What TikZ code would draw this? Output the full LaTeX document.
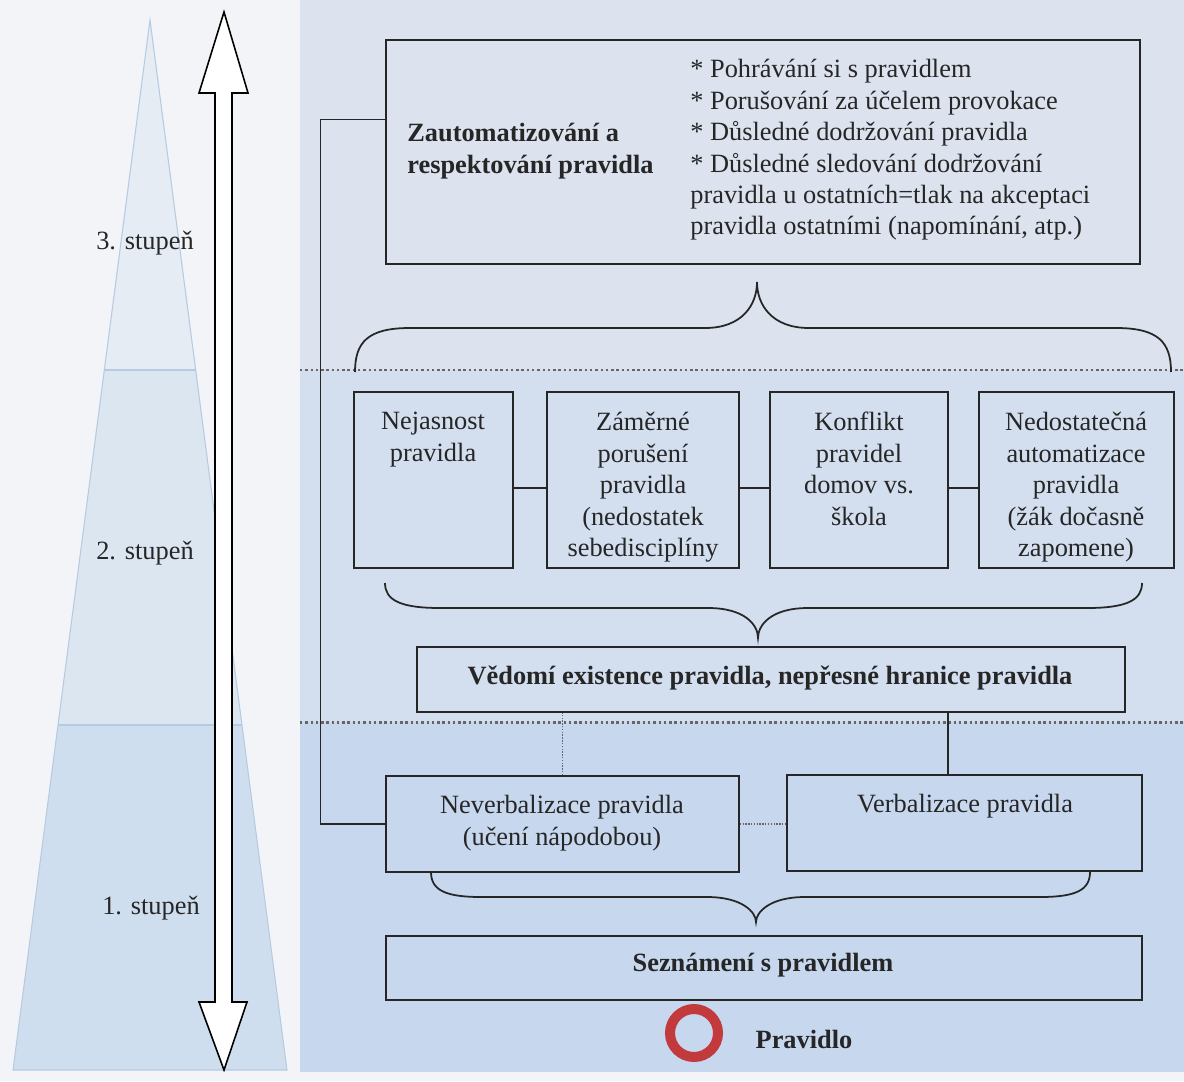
\documentclass[tikz,border=0pt]{standalone}
\usepackage{fontspec}
\setmainfont{Liberation Serif}
\usetikzlibrary{fit,calc}
\definecolor{leftbg}{HTML}{F3F4F8}
\definecolor{ptop}{HTML}{DCE2EE}
\definecolor{pmid}{HTML}{D3DEEF}
\definecolor{pbot}{HTML}{C6D7EE}
\definecolor{tri1}{HTML}{E5ECF4}
\definecolor{tri2}{HTML}{DCE6F1}
\definecolor{tri3}{HTML}{CFDEEE}
\definecolor{triline}{HTML}{B5CBE2}
\definecolor{ink}{HTML}{262626}
\definecolor{ringred}{HTML}{C23A3C}
\newcommand\fs{\fontsize{15pt}{17.9pt}\selectfont}
\begin{document}
\begin{tikzpicture}[x=0.2mm,y=-0.2mm,
  box/.style={draw=ink, line width=0.85pt, inner sep=0pt},
  txt/.style={font=\fs, text=ink, inner sep=0pt, align=center},
  ltxt/.style={font=\fs, text=ink, inner sep=0pt, align=left},
  conn/.style={draw=ink, line width=0.7pt},
  dotconn/.style={draw=ink!70, line width=0.6pt, dash pattern=on 0.8pt off 0.8pt},
  sect/.style={draw=gray!80!black, line width=1.7pt, dash pattern=on 1.4pt off 1.6pt},
  bracepath/.style={draw=ink, line width=1pt}]
\useasboundingbox (0,0) rectangle (1184,1081);
% backgrounds
\fill[leftbg] (0,0) rectangle (1184,1081);
\fill[ptop] (300,0) rectangle (1184,370);
\fill[pmid] (300,370) rectangle (1184,722);
\fill[pbot] (300,722) rectangle (1184,1072);
% pyramid
\fill[tri1] (150,20) -- (196,370) -- (104,370) -- cycle;
\fill[tri2] (104,370) -- (196,370) -- (242,725) -- (58,725) -- cycle;
\fill[tri3] (58,725) -- (242,725) -- (287,1070) -- (13,1070) -- cycle;
\draw[triline, line width=0.6pt] (150,20) -- (287,1070) -- (13,1070) -- cycle;
\draw[triline, line width=1.6pt] (104,370) -- (196,370);
\draw[triline, line width=1.6pt] (58,725) -- (242,725);
% double arrow
\draw[fill=white, draw=black, line width=0.9pt, line join=miter]
  (224,12) -- (248,93) -- (232,93) -- (232,1002) -- (247,1002) -- (224,1070)
  -- (199,1002) -- (215,1002) -- (215,93) -- (199,93) -- cycle;
\node[txt] (s3) at (145,243) {3. stupeň};
\node[txt] (s2) at (145,553) {2. stupeň};
\node[txt] (s1) at (151,908) {1. stupeň};
% section lines
\draw[sect] (300,370) -- (1184,370);
\draw[sect] (300,722) -- (1184,722);
% top box
\node[box, fit={(386,40) (1140,264)}] (top) {};
\node[ltxt, anchor=north west, font=\fs\bfseries] (toptitle) at (407,123) {Zautomatizování a\\respektování pravidla};
\node[ltxt, anchor=north west] (toplist) at (690,59) {* Pohrávání si s pravidlem\\* Porušování za účelem provokace\\* Důsledné dodržování pravidla\\* Důsledné sledování dodržování\\pravidla u ostatních=tlak na akceptaci\\pravidla ostatními (napomínání, atp.)};
% upper brace
\draw[bracepath] (355,372) .. controls (355,342) and (368,328) .. (410,328) -- (705,328)
  .. controls (742,328) and (757,305) .. (757,282)
  .. controls (757,305) and (772,328) .. (809,328) -- (1116,328)
  .. controls (1158,328) and (1171,342) .. (1171,372);
% middle boxes
\node[box, fit={(354,392) (513,568)}] (b1) {};
\node[box, fit={(547,392) (739,568)}] (b2) {};
\node[box, fit={(770,392) (948,568)}] (b3) {};
\node[box, fit={(979,392) (1174,568)}] (b4) {};
\node[txt, anchor=north] (t1) at (433,412) {Nejasnost\\pravidla};
\node[txt, anchor=north] (t2) at (643,412) {Záměrné\\porušení\\pravidla\\(nedostatek\\sebedisciplíny};
\node[txt, anchor=north] (t3) at (859,412) {Konflikt\\pravidel\\domov vs.\\škola};
\node[txt, anchor=north] (t4) at (1076,412) {Nedostatečná\\automatizace\\pravidla\\(žák dočasně\\zapomene)};
\coordinate (cy) at (0,488);
\draw[conn] (b1.east |- cy) -- (b2.west |- cy);
\draw[conn] (b2.east |- cy) -- (b3.west |- cy);
\draw[conn] (b3.east |- cy) -- (b4.west |- cy);
% middle brace
\draw[bracepath] (385,583) .. controls (385,600) and (400,608) .. (440,608) -- (708,608)
  .. controls (745,608) and (758,625) .. (758,638)
  .. controls (758,625) and (771,608) .. (808,608) -- (1087,608)
  .. controls (1127,608) and (1142,600) .. (1142,583);
% Vedomi box
\node[box, fit={(417,647) (1125,712)}] (ved) {};
\node[txt, font=\fs\bfseries] (vedt) at (770,678) {Vědomí existence pravidla, nepřesné hranice pravidla};
% bottom boxes
\node[box, fit={(386,776) (739,872)}] (nev) {};
\node[box, fit={(787,775) (1142,871)}] (verb) {};
\node[txt, anchor=north] (nevt) at (562,795) {Neverbalizace pravidla\\(učení nápodobou)};
\node[txt, anchor=north] (verbt) at (965,794) {Verbalizace pravidla};
\coordinate (cx) at (948,0);
\draw[dotconn] (nev.north) -- (nev.north |- ved.south);
\draw[conn] (cx |- ved.south) -- (cx |- verb.north);
\draw[dotconn] (nev.east) -- (verb.west |- nev.east);
\draw[conn] ([yshift=-80*0.2mm]top.north west) -- ++(-65,0) |- (nev.west);
% lower brace
\draw[bracepath] (431,872) .. controls (431,890) and (445,897) .. (481,897) -- (707,897)
  .. controls (742,897) and (756,912) .. (756,922)
  .. controls (756,912) and (770,897) .. (805,897) -- (1040,897)
  .. controls (1076,897) and (1090,890) .. (1090,872);
% Seznameni box
\node[box, fit={(386,936) (1142,1000)}] (sez) {};
\node[txt, font=\fs\bfseries] (sezt) at (763,965) {Seznámení s pravidlem};
% rule ring
\node[circle, draw=ringred, line width=2mm, minimum size=9.6mm, inner sep=0pt] (ring) at (694,1033) {};
\node[txt, font=\fs\bfseries] (prav) at (804,1039) {Pravidlo};
\end{tikzpicture}
\end{document}
